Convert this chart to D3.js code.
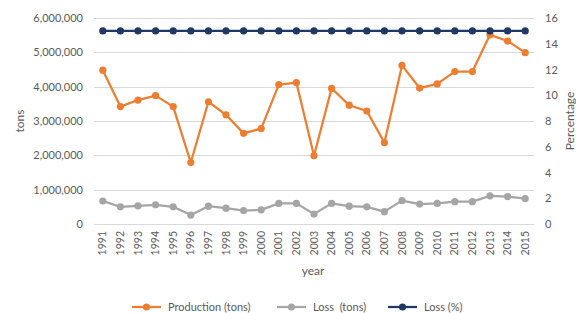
<!DOCTYPE html>
<html>
<head>
<meta charset="utf-8">
<script src="https://d3js.org/d3.v7.min.js"></script>
<style>
  body { margin: 0; background: #fff; }
  text { font-family: Lato, "Open Sans", sans-serif; fill: #595959; }
</style>
</head>
<body>
<script>
  // data
  var years = ["1991","1992","1993","1994","1995","1996","1997","1998","1999","2000",
               "2001","2002","2003","2004","2005","2006","2007","2008","2009","2010",
               "2011","2012","2013","2014","2015"];
  var production = [4480000, 3420000, 3610000, 3740000, 3420000, 1790000, 3560000, 3180000, 2640000, 2780000,
                    4060000, 4120000, 1990000, 3950000, 3460000, 3290000, 2370000, 4620000, 3960000, 4080000,
                    4440000, 4440000, 5510000, 5330000, 4990000];
  var lossTons = [670000, 500000, 530000, 560000, 500000, 260000, 520000, 460000, 390000, 410000,
                  600000, 600000, 290000, 600000, 520000, 500000, 360000, 680000, 580000, 600000,
                  650000, 650000, 820000, 800000, 740000];
  var lossPct = [15,15,15,15,15,15,15,15,15,15,15,15,15,15,15,15,15,15,15,15,15,15,15,15,15];
  var leftTicks = [0, 1000000, 2000000, 3000000, 4000000, 5000000, 6000000];
  var rightTicks = [0, 2, 4, 6, 8, 10, 12, 14, 16];

  var width = 576, height = 313;
  var plotLeft = 94, plotRight = 534, plotTop = 18, plotBottom = 224;

  var svg = d3.select("body").append("svg")
    .attr("width", width)
    .attr("height", height);

  var x = d3.scaleBand().domain(years).range([plotLeft, plotRight]);
  var yLeft = d3.scaleLinear().domain([0, 6000000]).range([plotBottom, plotTop]);
  var yRight = d3.scaleLinear().domain([0, 16]).range([plotBottom, plotTop]);

  // gridlines
  svg.append("g").selectAll("line")
    .data(leftTicks)
    .enter().append("line")
    .attr("x1", plotLeft)
    .attr("x2", plotRight)
    .attr("y1", function(d) { return Math.round(yLeft(d)) + 0.5; })
    .attr("y2", function(d) { return Math.round(yLeft(d)) + 0.5; })
    .attr("stroke", "#d9d9d9")
    .attr("stroke-width", 1);

  // left axis
  var leftAxis = svg.append("g")
    .attr("transform", "translate(" + (plotLeft - 8) + ",0)")
    .call(d3.axisLeft(yLeft).tickValues(leftTicks).tickSize(0).tickFormat(d3.format(",")));
  leftAxis.select(".domain").remove();
  leftAxis.selectAll("text").style("font-size", "11px").style("font-family", "Lato, 'Open Sans', sans-serif").attr("fill", "#595959");

  // right axis
  var rightAxis = svg.append("g")
    .attr("transform", "translate(" + (plotRight + 8) + ",0)")
    .call(d3.axisRight(yRight).tickValues(rightTicks).tickSize(0));
  rightAxis.select(".domain").remove();
  rightAxis.selectAll("text").style("font-size", "11px").style("font-family", "Lato, 'Open Sans', sans-serif").attr("fill", "#595959");

  // x axis (rotated year labels)
  var xAxis = svg.append("g")
    .attr("transform", "translate(0," + plotBottom + ")")
    .call(d3.axisBottom(x).tickSize(0));
  xAxis.select(".domain").remove();
  xAxis.selectAll("text")
    .style("font-size", "10.5px")
    .style("font-family", "Lato, 'Open Sans', sans-serif")
    .attr("fill", "#595959")
    .attr("text-anchor", "end")
    .attr("transform", "rotate(-90)")
    .attr("x", -7)
    .attr("y", 0)
    .attr("dy", "0.35em");

  // axis titles
  svg.append("text")
    .attr("transform", "translate(24," + ((plotTop + plotBottom) / 2) + ") rotate(-90)")
    .attr("text-anchor", "middle")
    .style("font-size", "12px")
    .text("tons");

  svg.append("text")
    .attr("transform", "translate(574," + ((plotTop + plotBottom) / 2) + ") rotate(-90)")
    .attr("text-anchor", "middle")
    .style("font-size", "12px")
    .text("Percentage");

  svg.append("text")
    .attr("x", 313)
    .attr("y", 275)
    .attr("text-anchor", "middle")
    .style("font-size", "12px")
    .text("year");

  // series
  var cx = function(d, i) { return x(years[i]) + x.bandwidth() / 2; };

  function drawSeries(values, scale, color) {
    var line = d3.line()
      .x(function(d, i) { return cx(d, i); })
      .y(function(d) { return scale(d); });
    svg.append("path")
      .datum(values)
      .attr("d", line)
      .attr("fill", "none")
      .attr("stroke", color)
      .attr("stroke-width", 2.25)
      .attr("stroke-linejoin", "round");
    svg.append("g").selectAll("circle")
      .data(values)
      .enter().append("circle")
      .attr("cx", cx)
      .attr("cy", function(d) { return scale(d); })
      .attr("r", 3.6)
      .attr("fill", color);
  }

  drawSeries(lossTons, yLeft, "#a5a5a5");
  drawSeries(production, yLeft, "#ed7d31");
  drawSeries(lossPct, yRight, "#1f3864");

  // legend
  var legendItems = [
    { name: "Production (tons)", color: "#ed7d31", x: 132 },
    { name: "Loss  (tons)", color: "#a5a5a5", x: 277 },
    { name: "Loss (%)", color: "#1f3864", x: 388 }
  ];
  var legendY = 307;
  var legend = svg.append("g").selectAll("g")
    .data(legendItems)
    .enter().append("g")
    .attr("transform", function(d) { return "translate(" + d.x + "," + legendY + ")"; });
  legend.append("line")
    .attr("x1", 0).attr("x2", 29)
    .attr("y1", 0).attr("y2", 0)
    .attr("stroke", function(d) { return d.color; })
    .attr("stroke-width", 2.25);
  legend.append("circle")
    .attr("cx", 14.5).attr("cy", 0).attr("r", 3.6)
    .attr("fill", function(d) { return d.color; });
  legend.append("text")
    .attr("x", 36)
    .attr("y", 0)
    .attr("dy", "0.35em")
    .style("font-size", "11px")
    .style("white-space", "pre")
    .attr("xml:space", "preserve")
    .text(function(d) { return d.name; });
</script>
</body>
</html>
